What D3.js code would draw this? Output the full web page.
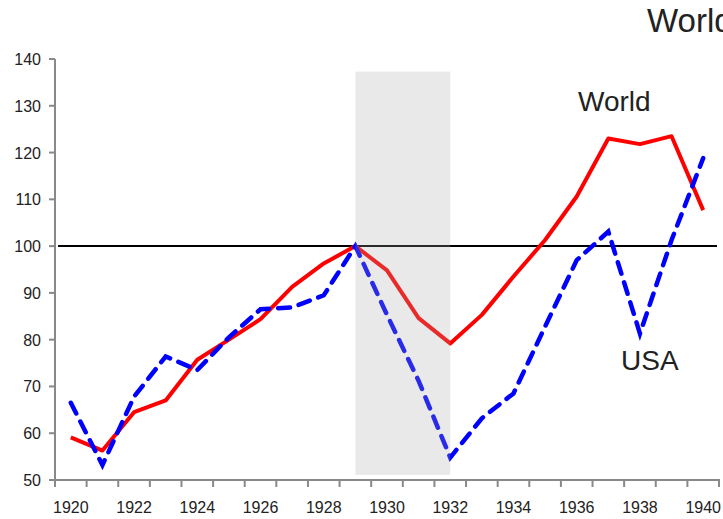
<!DOCTYPE html>
<html>
<head>
<meta charset="utf-8">
<script src="https://cdn.jsdelivr.net/npm/d3@7"></script>
<style>
  body { margin: 0; background: #fff; }
  svg text { font-family: "Century Gothic", "Liberation Sans", Arial, sans-serif; fill: #222; }
</style>
</head>
<body>
<svg id="chart" width="723" height="519"></svg>
<script>
// industrial production index, 1929 = 100
var years = d3.range(1920, 1941);
var world = [59.1, 56.3, 64.5, 67.0, 75.7, 80.0, 84.4, 91.3, 96.3, 100,
             94.8, 84.6, 79.2, 85.3, 93.5, 101.3, 110.6, 123.0, 121.8, 123.5, 107.7];
var usa = [66.5, 53.2, 67.8, 76.4, 73.5, 80.5, 86.5, 86.9, 89.5, 100,
           85.3, 71.2, 54.8, 63.2, 68.5, 82.8, 97.0, 103.1, 81.3, 101.3, 118.8];
var yTicks = [50, 60, 70, 80, 90, 100, 110, 120, 130, 140];
var xLabelYears = years.filter(function (y) { return y % 2 === 0; });
var depression = [1929, 1932];
var reference = 100;

var svg = d3.select("#chart");
// note: `top` is reserved on window, so use plot* names
var plotLeft = 55, plotRight = 719, plotTop = 59, plotBottom = 480;

var x = d3.scaleBand().domain(years).range([plotLeft, plotRight]).padding(0);
var xc = function (yr) { return x(yr) + x.bandwidth() / 2; };
var y = d3.scaleLinear().domain([50, 140]).range([plotBottom, plotTop]);

// reference line at 100
svg.append("line")
  .attr("x1", plotLeft + 3).attr("x2", plotRight - 2)
  .attr("y1", y(reference)).attr("y2", y(reference))
  .attr("stroke", "#000").attr("stroke-width", 2);

var line = d3.line()
  .x(function (d, i) { return xc(years[i]); })
  .y(function (d) { return y(d); });

svg.append("path")
  .datum(world)
  .attr("d", line)
  .attr("fill", "none")
  .attr("stroke", "#ff0000")
  .attr("stroke-width", 4)
  .attr("stroke-linejoin", "round");

svg.append("path")
  .datum(usa)
  .attr("d", line)
  .attr("fill", "none")
  .attr("stroke", "#0000ff")
  .attr("stroke-width", 4.5)
  .attr("stroke-dasharray", "12,9")
  .attr("stroke-linecap", "round");

// depression shading, drawn over the lines
svg.append("rect")
  .attr("x", xc(depression[0]))
  .attr("width", xc(depression[1]) - xc(depression[0]))
  .attr("y", y(137.3))
  .attr("height", y(51.1) - y(137.3))
  .attr("fill", "#a8a8a8")
  .attr("fill-opacity", 0.25);

// y axis
var yAxis = svg.append("g");
yAxis.append("line")
  .attr("x1", plotLeft).attr("x2", plotLeft)
  .attr("y1", plotTop).attr("y2", plotBottom + 1)
  .attr("stroke", "#898989").attr("stroke-width", 2);
yAxis.selectAll(".yt")
  .data(yTicks).enter().append("line")
  .attr("x1", plotLeft - 6).attr("x2", plotLeft)
  .attr("y1", function (d) { return y(d); })
  .attr("y2", function (d) { return y(d); })
  .attr("stroke", "#898989").attr("stroke-width", 2);
yAxis.selectAll(".yl")
  .data(yTicks).enter().append("text")
  .attr("x", plotLeft - 14)
  .attr("y", function (d) { return y(d) + 6; })
  .attr("text-anchor", "end")
  .attr("font-size", 16)
  .text(function (d) { return d; });

// x axis
var xAxis = svg.append("g");
xAxis.append("line")
  .attr("x1", plotLeft).attr("x2", plotRight + 1)
  .attr("y1", plotBottom).attr("y2", plotBottom)
  .attr("stroke", "#898989").attr("stroke-width", 2);
xAxis.selectAll(".xt")
  .data(years.concat([1941])).enter().append("line")
  .attr("x1", function (d, i) { return plotLeft + i * x.bandwidth(); })
  .attr("x2", function (d, i) { return plotLeft + i * x.bandwidth(); })
  .attr("y1", plotBottom).attr("y2", plotBottom + 7)
  .attr("stroke", "#898989").attr("stroke-width", 2);
xAxis.selectAll(".xl")
  .data(xLabelYears).enter().append("text")
  .attr("x", function (d) { return xc(d); })
  .attr("y", 513)
  .attr("text-anchor", "middle")
  .attr("font-size", 16)
  .text(function (d) { return d; });

// series labels
svg.append("text").attr("x", 578).attr("y", 111).attr("font-size", 28).text("World");
svg.append("text").attr("x", 621).attr("y", 370).attr("font-size", 28).text("USA");

// title, cut off at the right edge
svg.append("text").attr("x", 647).attr("y", 32).attr("font-size", 33).text("World Industrial Production");
</script>
</body>
</html>
